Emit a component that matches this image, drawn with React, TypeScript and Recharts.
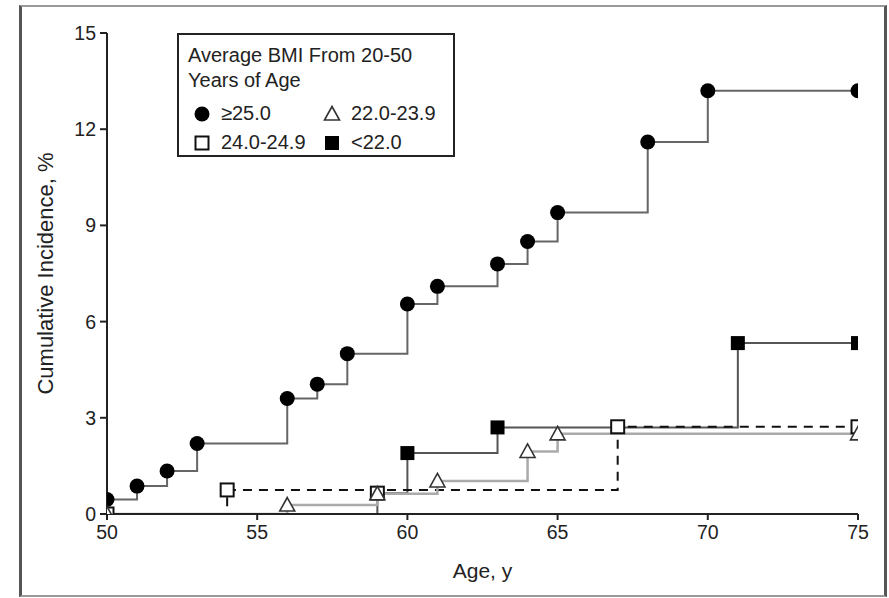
import { LineChart, Line, XAxis, YAxis, Legend } from "recharts";

// ages (x) and cumulative incidence % (y) per BMI group
const AGE_GE25 = [50, 51, 52, 53, 56, 57, 58, 60, 61, 63, 64, 65, 68, 70, 75];
const INC_GE25 = [0.45, 0.87, 1.34, 2.2, 3.6, 4.05, 5.0, 6.55, 7.1, 7.8, 8.5, 9.4, 11.6, 13.2, 13.2];

const AGE_24 = [50, 54, 67, 75];
const INC_24 = [0, 0.75, 2.72, 2.72];

const AGE_22 = [50, 56, 59, 61, 64, 65, 75];
const INC_22 = [0, 0.28, 0.63, 1.03, 1.95, 2.5, 2.5];

const AGE_LT22 = [50, 59, 60, 63, 71, 75];
const INC_LT22 = [0, 0.65, 1.9, 2.7, 5.33, 5.33];
const LT22_NO_MARK = [50];
const LT22_OPEN_MARK = [59];

const X_TICKS = [50, 55, 60, 65, 70, 75];
const Y_TICKS = [0, 3, 6, 9, 12, 15];

const LEGEND_TITLE = ["Average BMI From 20-50", "Years of Age"];

const FONT = '"Liberation Sans", Arial, sans-serif';
const INK = "#222";

type Kind = "circle" | "openSquare" | "triangle" | "square";

const toRows = (ages: number[], vals: number[]) => ages.map((age, i) => ({ age, v: vals[i] }));

function Marker({ kind, cx, cy }: { kind: Kind; cx: number; cy: number }) {
  if (kind === "circle") return <circle cx={cx} cy={cy} r={7.5} fill="#000" />;
  if (kind === "square") return <rect x={cx - 7} y={cy - 7} width={14} height={14} fill="#000" />;
  if (kind === "openSquare")
    return <rect x={cx - 6.5} y={cy - 6.5} width={13} height={13} fill="#fff" stroke="#111" strokeWidth={2} />;
  return (
    <path
      d={`M${cx},${cy - 7.5} L${cx + 7.5},${cy + 6} L${cx - 7.5},${cy + 6} Z`}
      fill="#fff" stroke="#333" strokeWidth={1.6}
    />
  );
}

const makeDot = (kind: Kind, hide: number[] = [], open: number[] = []) =>
  (p: any) => {
    const age = p.payload?.age;
    if (hide.includes(age) || p.cx == null) return <g key={p.index} />;
    const k: Kind = open.includes(age) ? "openSquare" : kind;
    return <g key={p.index}><Marker kind={k} cx={p.cx} cy={p.cy} /></g>;
  };

function Icon({ kind }: { kind: Kind }) {
  return (
    <svg width={18} height={18} style={{ display: "block" }}>
      <Marker kind={kind} cx={9} cy={10} />
    </svg>
  );
}

const LegendBox = () => {
  const item = (kind: Kind, text: string) => (
    <div style={{ display: "flex", alignItems: "center", width: 138 }}>
      <Icon kind={kind} />
      <span style={{ marginLeft: 10, whiteSpace: "nowrap" }}>{text}</span>
    </div>
  );
  return (
    <div style={{
      width: 274, height: 120, border: `2px solid ${INK}`, background: "#fff",
      fontFamily: FONT, fontSize: 20, color: INK, boxSizing: "content-box", textAlign: "left",
    }}>
      <div style={{ padding: "8px 0 0 9px", lineHeight: "25px" }}>
        {LEGEND_TITLE.map(t => <div key={t}>{t}</div>)}
      </div>
      <div style={{ display: "flex", paddingLeft: 14, lineHeight: "28px", marginTop: 6 }}>
        {item("circle", "≥25.0")}
        {item("triangle", "22.0-23.9")}
      </div>
      <div style={{ display: "flex", paddingLeft: 14, lineHeight: "28px", marginTop: 1 }}>
        {item("openSquare", "24.0-24.9")}
        {item("square", "<22.0")}
      </div>
    </div>
  );
};

export default function App() {
  const tick = { fill: INK, fontSize: 19.5, fontFamily: FONT };
  return (
    <div style={{
      position: "absolute", left: 19, top: 5, width: 862, height: 588,
      borderLeft: "3px solid #555", borderRight: "3px solid #555",
      borderTop: "2px solid #999", borderBottom: "2px solid #999", background: "#fff",
    }}>
      <LineChart width={862} height={588} margin={{ top: 26, right: 26, bottom: 11, left: 0 }}>
        <XAxis
          type="number" dataKey="age" domain={[50, 75]} ticks={X_TICKS} allowDataOverflow
          height={70} tickSize={6} tickMargin={5} tick={tick}
          axisLine={{ stroke: INK, strokeWidth: 2 }} tickLine={{ stroke: INK, strokeWidth: 2 }}
          label={{ value: "Age, y", position: "insideBottom", offset: 6,
            style: { fill: INK, fontSize: 21, fontFamily: FONT } }}
        />
        <YAxis
          type="number" domain={[0, 15]} ticks={Y_TICKS} allowDataOverflow
          width={85} tickSize={7} tickMargin={4} tick={tick}
          axisLine={{ stroke: INK, strokeWidth: 2 }} tickLine={{ stroke: INK, strokeWidth: 2 }}
          label={{ value: "Cumulative Incidence, %", angle: -90, position: "insideLeft", offset: 23,
            style: { textAnchor: "middle", fill: INK, fontSize: 22, fontFamily: FONT } }}
        />
        <Line
          data={toRows(AGE_LT22, INC_LT22)} dataKey="v" type="stepAfter"
          stroke="#555" strokeWidth={2} dot={makeDot("square", LT22_NO_MARK, LT22_OPEN_MARK)}
          activeDot={false} isAnimationActive={false}
        />
        <Line
          data={toRows(AGE_GE25, INC_GE25)} dataKey="v" type="stepAfter"
          stroke="#666" strokeWidth={2} dot={makeDot("circle")}
          activeDot={false} isAnimationActive={false}
        />
        <Line
          data={toRows(AGE_24, INC_24)} dataKey="v" type="stepAfter"
          stroke="#111" strokeWidth={2} strokeDasharray="9 7" dot={makeDot("openSquare")}
          activeDot={false} isAnimationActive={false}
        />
        <Line
          data={toRows(AGE_22, INC_22)} dataKey="v" type="stepAfter"
          stroke="#aaa" strokeWidth={2.5} dot={makeDot("triangle")}
          activeDot={false} isAnimationActive={false}
        />
        <Legend
          layout="horizontal" verticalAlign="middle" align="center"
          content={<LegendBox />}
          wrapperStyle={{ top: 26, left: 155, width: "auto", bottom: "auto" }}
        />
      </LineChart>
    </div>
  );
}
